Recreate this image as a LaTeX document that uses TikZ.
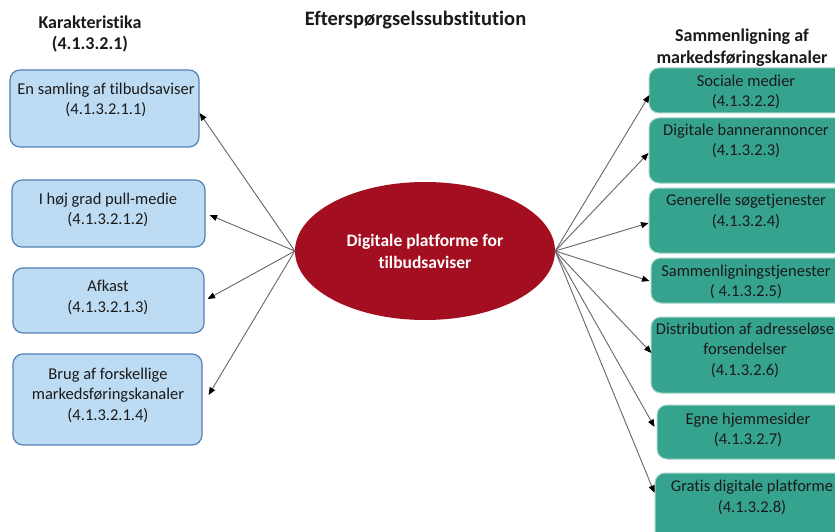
\documentclass[tikz,border=0pt]{standalone}
\usepackage{fontspec}
\setmainfont{Carlito}[Ligatures={NoCommon}]
\usetikzlibrary{arrows.meta,shapes.geometric,calc}
\definecolor{lfill}{HTML}{BDDCF4}
\definecolor{ldraw}{HTML}{5282B4}
\definecolor{rfill}{HTML}{36A38F}
\definecolor{rdraw}{HTML}{9FD3C6}
\definecolor{ered}{HTML}{A30F21}
\definecolor{conn}{HTML}{666666}
\definecolor{txtdark}{HTML}{1A1A1A}
\tikzset{
  lbox/.style={draw=ldraw, line width=1.2pt, fill=lfill, rounded corners=10pt, inner sep=0pt},
  rbox/.style={draw=rdraw, line width=1pt, fill=rfill, rounded corners=10pt, inner sep=0pt},
  btxt/.style={align=center, font=\fontsize{16.5}{20.5}\selectfont, text=txtdark, inner sep=0pt},
  htxt/.style={align=center, font=\fontsize{18}{21.5}\selectfont\bfseries, text=txtdark, inner sep=0pt},
  conn/.style={draw=conn, line width=0.9pt, -{Triangle[length=7.5pt,width=6pt,fill=black,color=black]}},
}
\begin{document}
\begin{tikzpicture}[x=1pt,y=-1pt]
\useasboundingbox (0,0) rectangle (835,532);
\clip (0,0) rectangle (835,532);
\fill[white] (0,0) rectangle (835,532);
% headers
\node[htxt, font=\fontsize{20.5}{24}\selectfont\bfseries] (title) at (415.5,20) {Efterspørgselssubstitution};
\node[htxt] (hl) at (90,34) {Karakteristika\\(4.1.3.2.1)};
\node[htxt] (hr) at (742,47.5) {Sammenligning af\\markedsføringskanaler};
% ellipse
\node[ellipse, fill=ered, minimum width=260pt, minimum height=138pt, inner sep=0pt] (e) at (425,251) {};
\node[htxt, text=white, font=\fontsize{17.5}{22}\selectfont\bfseries] (et) at (425,251) {Digitale platforme for\\tilbudsaviser};
% left boxes
\node[lbox, minimum width=189pt, minimum height=77pt] (l1) at (104.5,108.5) {};
\node[btxt] (l1t) at (106,100) {En samling af tilbudsaviser\\(4.1.3.2.1.1)};
\node[lbox, minimum width=193pt, minimum height=67pt] (l2) at (108.5,213.5) {};
\node[btxt] (l2t) at (108,210) {I høj grad pull-medie\\(4.1.3.2.1.2)};
\node[lbox, minimum width=191pt, minimum height=65pt] (l3) at (108.5,300.5) {};
\node[btxt] (l3t) at (108,297.5) {Afkast\\(4.1.3.2.1.3)};
\node[lbox, minimum width=189pt, minimum height=91pt] (l4) at (107.5,399.5) {};
\node[btxt] (l4t) at (108,395) {Brug af forskellige\\markedsføringskanaler\\(4.1.3.2.1.4)};
% right boxes
\node[rbox, minimum width=201pt, minimum height=45pt] (r1) at (749.5,90.5) {};
\node[btxt] (r1t) at (746,92) {Sociale medier\\(4.1.3.2.2)};
\node[rbox, minimum width=201pt, minimum height=65pt] (r2) at (749.5,150.5) {};
\node[btxt] (r2t) at (746,141) {Digitale bannerannoncer\\(4.1.3.2.3)};
\node[rbox, minimum width=201pt, minimum height=65pt] (r3) at (749.5,220.5) {};
\node[btxt] (r3t) at (746,211.5) {Generelle søgetjenester\\(4.1.3.2.4)};
\node[rbox, minimum width=199pt, minimum height=45pt] (r4) at (750.5,280.5) {};
\node[btxt] (r4t) at (746,282) {Sammenligningstjenester\\( 4.1.3.2.5)};
\node[rbox, minimum width=199pt, minimum height=76pt] (r5) at (750.5,355) {};
\node[btxt] (r5t) at (745,350) {Distribution af adresseløse\\forsendelser\\(4.1.3.2.6)};
\node[rbox, minimum width=193pt, minimum height=54pt] (r6) at (753.5,432) {};
\node[btxt] (r6t) at (748,430) {Egne hjemmesider\\(4.1.3.2.7)};
\node[rbox, minimum width=195pt, minimum height=80pt] (r7) at (752.5,513) {};
\node[btxt] (r7t) at (752,497.5) {Gratis digitale platforme\\(4.1.3.2.8)};
% connectors
\draw[conn] (e.west) -- ([yshift=-4.5pt]l1.east);
\draw[conn] (e.west) -- ([xshift=4pt,yshift=-1.5pt]l2.east);
\draw[conn] (e.west) -- ([xshift=3pt,yshift=1.5pt]l3.east);
\draw[conn] (e.west) -- ([xshift=6pt,yshift=4.5pt]l4.east);
\draw[conn] (e.east) -- ([xshift=1pt,yshift=-4.5pt]r1.west);
\draw[conn] (e.east) -- ([yshift=-2.5pt]r2.west);
\draw[conn] (e.east) -- ([yshift=-2.5pt]r3.west);
\draw[conn] (e.east) -- ([xshift=-1pt,yshift=-0.5pt]r4.west);
\draw[conn] (e.east) -- ([xshift=1pt,yshift=2pt]r5.west);
\draw[conn] (e.east) -- ([xshift=-2pt,yshift=5pt]r6.west);
\draw[conn] (e.east) -- ([yshift=20pt]r7.west);
\end{tikzpicture}
\end{document}
